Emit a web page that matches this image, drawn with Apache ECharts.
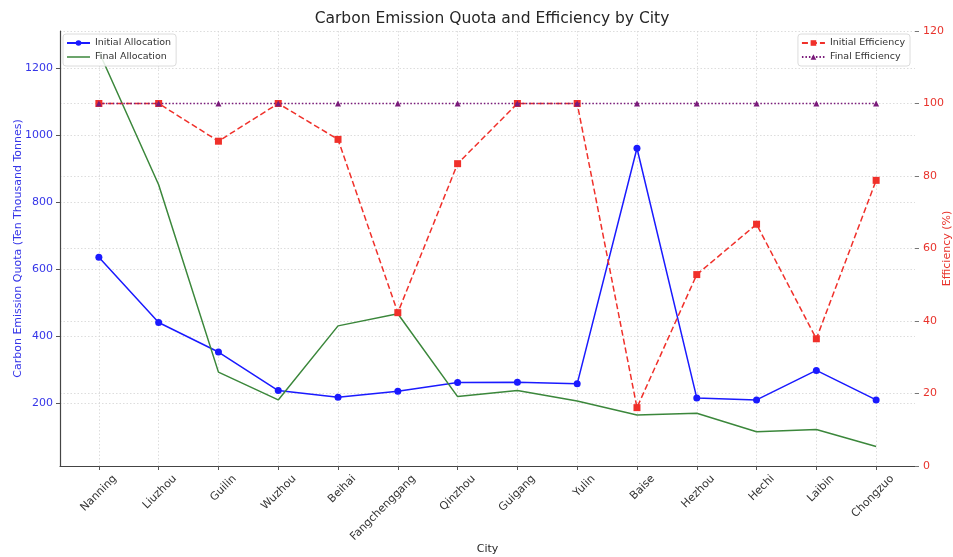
<!DOCTYPE html>
<html>
<head>
<meta charset="utf-8">
<title>Carbon Emission Quota and Efficiency by City</title>
<script src="https://cdn.jsdelivr.net/npm/echarts@6/dist/echarts.min.js"></script>
<style>
  html, body { margin: 0; padding: 0; background: #fff; }
  #main { width: 953px; height: 557px; }
</style>
</head>
<body>
<div id="main"></div>
<script>
// 城市
var cities = ['Nanning', 'Liuzhou', 'Guilin', 'Wuzhou', 'Beihai', 'Fangchenggang', 'Qinzhou',
    'Guigang', 'Yulin', 'Baise', 'Hezhou', 'Hechi', 'Laibin', 'Chongzuo'];

// 配额 (万吨)
var initialAllocation = [636, 441, 353, 238, 218, 236, 262, 263, 258, 961, 216, 210, 298, 210];
var finalAllocation = [1250, 852, 293, 210, 431, 467, 220, 238, 207, 165, 170, 115, 122, 71];

// 效率 (%)
var initialEfficiency = [100, 100, 89.6, 100, 90.1, 42.3, 83.4, 100, 100, 16.1, 52.8, 66.7, 35.1, 78.8];
var finalEfficiency = [100, 100, 100, 100, 100, 100, 100, 100, 100, 100, 100, 100, 100, 100];

// 刻度
var quotaTicks = [200, 400, 600, 800, 1000, 1200];

var font = 'DejaVu Sans';
var labelShift = 0.27;   // 旋转标签右移，模仿居中对齐

function pairs(arr) {
    return arr.map(function (v, i) { return [i, v]; });
}

var myChart = echarts.init(document.getElementById('main'));

var dotted = { color: '#d4d4d4', type: [1.5, 2], width: 0.8 };

var legendBase = {
    orient: 'vertical',
    top: 34,
    itemGap: 4,
    itemWidth: 23,
    itemHeight: 7,
    padding: [4, 5, 4, 3],
    backgroundColor: 'rgba(255,255,255,0.85)',
    borderColor: '#dcdcdc',
    borderWidth: 1,
    borderRadius: 3,
    textStyle: { fontFamily: font, fontSize: 9.5, color: '#333' }
};

var option = {
    backgroundColor: '#fff',
    animation: false,
    textStyle: { fontFamily: font },
    title: {
        text: 'Carbon Emission Quota and Efficiency by City',
        left: 487,
        textAlign: 'center',
        top: 6,
        textStyle: { fontFamily: font, fontSize: 15.5, fontWeight: 'normal', color: '#262626' }
    },
    legend: [
        echarts.util.extend({
            left: 63,
            data: ['Initial Allocation', {
                name: 'Final Allocation',
                // 只画线，不画点
                icon: 'path://M0,0 L23,0 L23,1.5 L0,1.5 Z'
            }]
        }, legendBase),
        echarts.util.extend({
            right: 43,
            data: ['Initial Efficiency', 'Final Efficiency']
        }, legendBase)
    ],
    grid: { left: 60, right: 38, top: 31, bottom: 91, outerBoundsMode: 'none', containLabel: false },
    xAxis: {
        type: 'value',
        min: -0.65,
        max: 13.65,
        name: 'City',
        nameLocation: 'middle',
        nameGap: 78,
        nameMoveOverlap: false,
        nameTextStyle: { fontFamily: font, fontSize: 11, color: '#262626' },
        axisLine: { show: true, onZero: false, lineStyle: { color: '#444', width: 1.2 } },
        axisTick: {
            show: true, length: 4, inside: false,
            customValues: cities.map(function (c, i) { return i; }),
            lineStyle: { color: '#555' }
        },
        axisLabel: {
            customValues: cities.map(function (c, i) { return i + labelShift; }),
            formatter: function (v) { return cities[Math.round(v - labelShift)]; },
            rotate: 45,
            align: 'right',
            verticalAlign: 'middle',
            margin: 11,
            fontFamily: font,
            fontSize: 11,
            color: '#333'
        },
        splitLine: { show: true, lineStyle: dotted }
    },
    yAxis: [{
        type: 'value',
        position: 'left',
        min: 12.8,
        max: 1311,
        name: 'Carbon Emission Quota (Ten Thousand Tonnes)',
        nameLocation: 'middle',
        nameRotate: 90,
        nameGap: 36,
        nameMoveOverlap: false,
        nameTextStyle: { fontFamily: font, fontSize: 11, color: '#3535e8' },
        axisLine: { show: true, onZero: false, lineStyle: { color: '#444', width: 1.2 } },
        axisTick: { show: true, length: 4, customValues: quotaTicks, lineStyle: { color: '#555' } },
        axisLabel: {
            customValues: quotaTicks,
            formatter: function (v) { return String(v); },
            margin: 7, fontFamily: font, fontSize: 11, color: '#3535e8'
        },
        splitLine: { show: true, lineStyle: dotted }
    }, {
        type: 'value',
        position: 'right',
        min: 0,
        max: 120,
        interval: 20,
        name: 'Efficiency (%)',
        nameLocation: 'middle',
        nameRotate: 90,
        nameGap: 27,
        nameMoveOverlap: false,
        nameTextStyle: { fontFamily: font, fontSize: 11, color: '#e8332c' },
        axisLine: { show: false, onZero: false },
        axisTick: { show: true, length: 4, lineStyle: { color: '#777' } },
        axisLabel: { margin: 8, fontFamily: font, fontSize: 11, color: '#e8332c' },
        splitLine: { show: true, lineStyle: dotted }
    }],
    series: [{
        name: 'Initial Allocation',
        type: 'line',
        yAxisIndex: 0,
        data: pairs(initialAllocation),
        symbol: 'circle',
        symbolSize: 7,
        color: '#1a1aff',
        lineStyle: { width: 1.5 },
        z: 3
    }, {
        name: 'Final Allocation',
        type: 'line',
        yAxisIndex: 0,
        data: pairs(finalAllocation),
        showSymbol: false,
        symbol: 'none',
        color: '#3b873b',
        lineStyle: { width: 1.5 },
        z: 3
    }, {
        name: 'Initial Efficiency',
        type: 'line',
        yAxisIndex: 1,
        data: pairs(initialEfficiency),
        symbol: 'rect',
        symbolSize: 7,
        color: '#f0302a',
        lineStyle: { width: 1.5, type: [6, 3] },
        z: 4
    }, {
        name: 'Final Efficiency',
        type: 'line',
        yAxisIndex: 1,
        data: pairs(finalEfficiency),
        symbol: 'triangle',
        symbolSize: 6,
        color: '#7a1a7a',
        lineStyle: { width: 1.5, type: [1.5, 2] },
        z: 5
    }]
};

myChart.setOption(option);
</script>
</body>
</html>
